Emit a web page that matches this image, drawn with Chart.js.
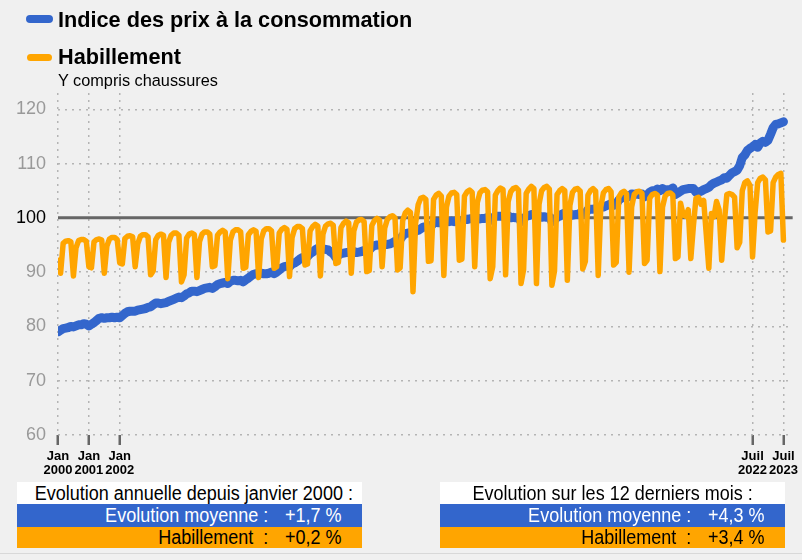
<!DOCTYPE html>
<html>
<head>
<meta charset="utf-8">
<script src="https://cdn.jsdelivr.net/npm/chart.js@4.4.1/dist/chart.umd.min.js"></script>
<style>
  body { margin: 0; background: #f0f0f0; }
  #wrap { position: relative; width: 802px; height: 560px; overflow: hidden; background: #f0f0f0; }
  #grafico { position: absolute; left: 0; top: 0; }
  .leg { position: absolute; left: 58px; font-family: "Liberation Sans", Arial, sans-serif; font-weight: bold; font-size: 21.7px; color: #000; white-space: nowrap; }
  .trait { position: absolute; height: 8px; border-radius: 4px; }
  .sous { position: absolute; left: 58px; top: 71px; font-family: "Liberation Sans", Arial, sans-serif; font-size: 16.3px; color: #000; }
  .boite { position: absolute; top: 482px; width: 345px; font-family: "Liberation Sans", Arial, sans-serif; font-size: 20px; }
  .ligne { position: relative; }
  .titre { background: #fff; height: 22px; line-height: 22px; text-align: center; color: #000; }
  .titre span { display: inline-block; transform: scaleX(0.9); transform-origin: center; white-space: pre; }
  .bleu { background: #3366cc; height: 23px; line-height: 23px; color: #fff; }
  .orange { background: #ffa500; height: 21px; line-height: 21px; color: #000; }
  .lib { position: absolute; right: 94px; top: 0; white-space: pre; transform: scaleX(0.9); transform-origin: right; }
  .val { position: absolute; left: 268px; top: 0; white-space: pre; transform: scaleX(0.9); transform-origin: left; }
  #bas { position: absolute; left: 0; top: 553px; width: 802px; height: 1px; background: #d8d8d8; }
</style>
</head>
<body>
<div id="wrap">
  <canvas id="grafico" width="802" height="560"></canvas>
  <div class="trait" style="left:26px; top:15px; width:27px; background:#3366cc;"></div>
  <div class="leg" style="top:7px;">Indice des prix à la consommation</div>
  <div class="trait" style="left:27px; top:54px; width:25px; height:7px; background:#ffa500;"></div>
  <div class="leg" style="top:44px;">Habillement</div>
  <div class="sous">Y compris chaussures</div>

  <div class="boite" style="left:17px;">
    <div class="ligne titre"><span>Evolution annuelle depuis janvier 2000 :</span></div>
    <div class="ligne bleu"><span class="lib">Evolution moyenne :</span><span class="val" id="v1"></span></div>
    <div class="ligne orange"><span class="lib">Habillement  :</span><span class="val" id="v2"></span></div>
  </div>
  <div class="boite" style="left:440px;">
    <div class="ligne titre"><span>Evolution sur les 12 derniers mois :</span></div>
    <div class="ligne bleu"><span class="lib">Evolution moyenne :</span><span class="val" id="v3"></span></div>
    <div class="ligne orange"><span class="lib">Habillement  :</span><span class="val" id="v4"></span></div>
  </div>
  <div id="bas"></div>
</div>

<script>
// Indices mensuels de janvier 2000 à juillet 2023 (base 100)
const ipc = [
  79.0, 79.3, 79.6, 79.7, 79.8, 80.0, 79.9, 80.1, 80.3, 80.3, 80.5, 80.4,
  80.1, 80.4, 80.7, 81.1, 81.5, 81.6, 81.5, 81.6, 81.6, 81.7, 81.6, 81.7,
  81.6, 82.0, 82.4, 82.7, 82.8, 82.8, 82.8, 83.0, 83.1, 83.2, 83.3, 83.5,
  83.6, 84.0, 84.3, 84.3, 84.2, 84.3, 84.4, 84.6, 84.8, 85.0, 85.2, 85.4,
  85.3, 85.6, 86.0, 86.2, 86.5, 86.5, 86.4, 86.6, 86.8, 87.0, 87.1, 87.2,
  87.0, 87.3, 87.7, 87.9, 88.0, 88.1, 87.9, 88.3, 88.5, 88.5, 88.4, 88.5,
  88.2, 88.6, 88.9, 89.3, 89.6, 89.7, 89.6, 89.8, 89.7, 89.7, 89.8, 90.0,
  89.7, 90.0, 90.4, 90.8, 91.0, 91.1, 91.0, 91.5, 91.7, 92.0, 92.4, 92.7,
  92.5, 92.9, 93.4, 93.7, 94.1, 94.4, 94.4, 94.3, 94.2, 94.1, 93.7, 93.4,
  92.7, 93.1, 93.4, 93.5, 93.6, 93.7, 93.4, 93.8, 93.6, 93.7, 93.8, 94.0,
  93.8, 94.1, 94.6, 94.9, 95.0, 95.0, 94.9, 95.1, 95.1, 95.2, 95.4, 95.7,
  95.5, 96.0, 96.7, 97.1, 97.2, 97.3, 97.1, 97.6, 97.7, 98.0, 98.3, 98.4,
  98.1, 98.5, 99.0, 99.2, 99.1, 99.1, 98.9, 99.4, 99.3, 99.4, 99.3, 99.5,
  99.1, 99.4, 99.8, 99.7, 99.8, 99.9, 99.7, 100.0, 99.8, 99.9, 99.9, 100.1,
  99.5, 100.0, 100.3, 100.3, 100.3, 100.3, 100.0, 100.4, 100.0, 100.1, 100.0, 100.1,
  99.3, 99.8, 100.3, 100.4, 100.6, 100.6, 100.2, 100.4, 100.1, 100.2, 100.1, 100.2,
  99.3, 99.6, 100.1, 100.3, 100.7, 100.9, 100.6, 100.8, 100.5, 100.6, 100.6, 100.9,
  100.6, 100.8, 101.5, 101.6, 101.6, 101.7, 101.5, 102.0, 102.0, 102.2, 102.4, 102.6,
  102.3, 102.5, 103.3, 103.6, 104.0, 104.1, 103.9, 104.4, 104.3, 104.4, 104.3, 104.4,
  103.9, 104.2, 104.7, 105.0, 105.0, 105.3, 105.0, 105.4, 105.1, 105.2, 105.2, 105.5,
  104.3, 104.6, 104.9, 105.2, 105.3, 105.4, 105.4, 105.4, 104.7, 104.8, 104.9, 105.2,
  105.4, 105.6, 106.1, 106.4, 106.6, 106.8, 107.0, 107.4, 107.3, 107.8, 108.3, 108.5,
  108.8, 109.6, 111.1, 111.6, 112.4, 112.8, 113.1, 113.5, 113.0, 113.8, 114.1, 113.9,
  114.3, 115.4, 116.6, 117.2, 117.3, 117.5, 117.7
];

const habillement = [
  92.2, 89.8, 95.3, 95.7, 95.8, 95.6, 89.3, 94.5, 95.8, 96.0, 96.0, 95.7,
  91.0, 90.8, 95.6, 96.0, 96.1, 95.9, 89.8, 94.8, 96.1, 96.4, 96.4, 96.0,
  91.7, 91.5, 96.2, 96.6, 96.7, 96.5, 91.0, 95.2, 96.6, 96.9, 96.9, 96.5,
  89.5, 90.2, 96.0, 96.8, 97.0, 96.8, 89.0, 95.5, 96.8, 97.2, 97.2, 96.8,
  88.2, 89.5, 96.3, 97.0, 97.2, 96.9, 89.0, 95.6, 97.0, 97.4, 97.4, 97.0,
  91.0, 91.2, 96.8, 97.4, 97.7, 97.4, 88.8, 95.9, 97.4, 97.8, 97.8, 97.4,
  90.7, 90.9, 96.9, 97.5, 97.8, 97.5, 89.0, 96.1, 97.6, 98.0, 98.0, 97.6,
  90.7, 91.0, 97.2, 97.9, 98.2, 97.9, 89.2, 96.4, 98.0, 98.4, 98.4, 98.0,
  91.3, 91.5, 97.6, 98.4, 98.8, 98.5, 89.3, 97.0, 98.5, 98.9, 99.0, 98.6,
  91.6, 91.8, 98.2, 99.0, 99.4, 99.1, 89.8, 97.6, 99.2, 99.6, 99.7, 99.3,
  90.1, 90.3, 98.6, 99.5, 99.9, 99.6, 91.0, 98.1, 99.7, 100.2, 100.4, 100.0,
  90.4, 90.8, 99.5, 100.9, 101.4, 101.0, 86.4, 99.0, 102.4, 103.6, 103.8, 103.4,
  92.0, 92.1, 103.4, 104.2, 104.5, 104.0, 89.4, 102.0, 104.0, 104.6, 104.7, 104.3,
  92.2, 92.4, 104.0, 104.8, 105.1, 104.7, 91.0, 102.8, 104.6, 105.1, 105.2, 104.8,
  88.8, 91.0, 104.2, 105.0, 105.5, 105.2, 89.5, 103.0, 104.8, 105.4, 105.6, 105.1,
  87.9, 90.5, 104.5, 105.3, 105.8, 105.4, 87.9, 102.5, 105.0, 105.6, 105.8, 105.3,
  87.6, 90.2, 104.3, 105.0, 105.4, 105.0, 88.5, 102.3, 104.7, 105.3, 105.4, 104.9,
  90.6, 92.0, 104.2, 105.0, 105.4, 104.9, 89.4, 102.0, 104.6, 105.2, 105.4, 104.8,
  91.3, 91.8, 103.8, 104.6, 104.9, 104.4, 90.0, 102.0, 104.3, 104.8, 104.9, 104.5,
  91.6, 92.2, 103.6, 104.3, 104.5, 104.2, 90.1, 102.0, 104.0, 104.5, 104.6, 104.2,
  92.5, 92.8, 102.7, 100.6, 100.3, 101.5, 92.5, 98.5, 103.6, 103.8, 102.5, 103.2,
  97.0, 90.7, 100.8, 100.2, 103.0, 101.5, 92.2, 99.0, 104.3, 104.5, 104.3, 103.8,
  94.5, 95.5, 105.0, 106.5, 106.8, 106.0, 92.8, 101.0, 106.5, 107.3, 107.5, 107.0,
  97.4, 97.6, 106.5, 107.5, 108.0, 108.2, 95.9
];

// Graduations de l'axe des x (rang du mois depuis janvier 2000)
const ticksMois = [0, 12, 24, 270, 282];
const ticksLabels = [["Jan", "2000"], ["Jan", "2001"], ["Jan", "2002"], ["Juil", "2022"], ["Juil", "2023"]];
const ticksY = [60, 70, 80, 90, 100, 110, 120];

// Evolutions affichées sous le graphique
const evolAnnuelle = ["+1,7 %", "+0,2 %"];
const evol12mois = ["+4,3 %", "+3,4 %"];

document.getElementById("v1").textContent = evolAnnuelle[0];
document.getElementById("v2").textContent = evolAnnuelle[1];
document.getElementById("v3").textContent = evol12mois[0];
document.getElementById("v4").textContent = evol12mois[1];

function versPoints(valeurs) {
    return valeurs.map((v, i) => ({ x: i, y: v }));
}

// Ligne de référence à 100
const ligne100 = {
    id: 'ligne100',
    beforeDatasetsDraw(chart) {
        const ctx = chart.ctx;
        const y = chart.scales.y.getPixelForValue(100);
        ctx.save();
        ctx.strokeStyle = '#666666';
        ctx.lineWidth = 3;
        ctx.beginPath();
        ctx.moveTo(chart.chartArea.left, y);
        ctx.lineTo(chart.chartArea.right + 1, y);
        ctx.stroke();
        ctx.restore();
    }
};

const grille = '#b4b4b4';

new Chart(document.getElementById('grafico').getContext('2d'), {
    type: 'line',
    data: {
        datasets: [{
            label: 'Indice des prix à la consommation',
            data: versPoints(ipc),
            borderColor: '#3366cc',
            borderWidth: 9,
            borderCapStyle: 'round',
            borderJoinStyle: 'round',
            pointRadius: 0,
            tension: 0,
            order: 2
        },
        {
            label: 'Habillement',
            data: versPoints(habillement),
            borderColor: '#ffa500',
            borderWidth: 5.5,
            borderCapStyle: 'round',
            borderJoinStyle: 'round',
            pointRadius: 0,
            tension: 0,
            order: 1
        }]
    },
    options: {
        responsive: false,
        animation: false,
        events: [],
        layout: { padding: { left: 0, right: 10, top: 93, bottom: 80 } },
        plugins: {
            legend: { display: false },
            tooltip: { enabled: false }
        },
        scales: {
            x: {
                type: 'linear',
                min: 0,
                max: 285.2,
                afterBuildTicks: (axis) => { axis.ticks = ticksMois.map(v => ({ value: v })); },
                afterFit: (axis) => { axis.height = 45; },
                border: { display: false, dash: [2, 5] },
                grid: {
                    color: grille,
                    lineWidth: 1.5,
                    drawTicks: true,
                    tickLength: 10,
                    tickColor: '#666666',
                    tickWidth: 2.5,
                    tickBorderDash: []
                },
                ticks: {
                    autoSkip: false,
                    maxRotation: 0,
                    padding: 4,
                    color: '#000',
                    font: { family: "'Liberation Sans', Arial, sans-serif", size: 13, weight: 'bold', lineHeight: 1.1 },
                    callback: (value) => ticksLabels[ticksMois.indexOf(value)]
                }
            },
            y: {
                min: 60,
                max: 123,
                afterBuildTicks: (axis) => { axis.ticks = ticksY.map(v => ({ value: v })); },
                afterFit: (axis) => { axis.width = 58; },
                border: { display: false, dash: [2, 5] },
                grid: {
                    color: (ctx) => ctx.tick && ctx.tick.value === 100 ? 'rgba(0,0,0,0)' : grille,
                    lineWidth: 1.5,
                    drawTicks: false
                },
                ticks: {
                    padding: 12,
                    color: (ctx) => ctx.tick && ctx.tick.value === 100 ? '#000' : '#999999',
                    font: { family: "'Liberation Sans', Arial, sans-serif", size: 18 }
                }
            }
        }
    },
    plugins: [ligne100]
});
</script>
</body>
</html>
